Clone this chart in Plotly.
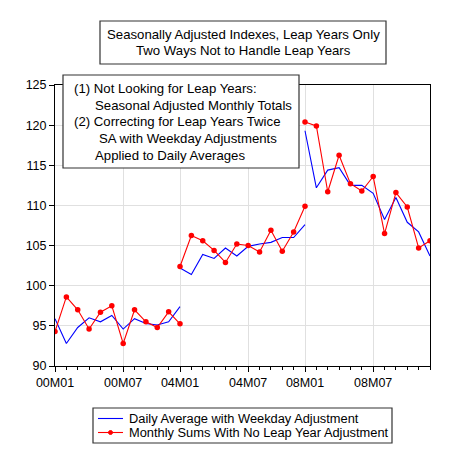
import plotly.graph_objects as go

# ---- data ----
daily_avg_2000 = [95.9, 92.8, 94.8, 96.0, 95.5, 96.3, 94.6, 95.9, 95.3, 95.1, 95.5, 97.4]
daily_avg_2004 = [102.2, 101.4, 103.9, 103.4, 104.7, 103.7, 104.9, 105.2, 105.4, 106.0, 106.0, 107.6]
daily_avg_2008 = [119.3, 112.2, 114.4, 114.7, 112.5, 112.5, 111.5, 108.25, 111.0, 107.9, 106.7, 103.7]

monthly_sum_2000 = [94.3, 98.6, 97.0, 94.6, 96.7, 97.5, 92.8, 97.0, 95.5, 94.8, 96.75, 95.25]
monthly_sum_2004 = [102.4, 106.25, 105.6, 104.4, 102.9, 105.2, 105.0, 104.2, 106.9, 104.3, 106.7, 109.9]
monthly_sum_2008 = [120.4, 119.9, 111.7, 116.25, 112.7, 111.8, 113.6, 106.5, 111.6, 109.8, 104.7, 105.6]

tick_labels = ["00M01", "00M07", "04M01", "04M07", "08M01", "08M07"]

title_lines = ["Seasonally Adjusted Indexes, Leap Years Only",
               "Two Ways Not to Handle Leap Years"]
note_lines = ["(1) Not Looking for Leap Years:",
              "Seasonal Adjusted Monthly Totals",
              "(2) Correcting for Leap Years Twice",
              "SA with Weekday Adjustments",
              "Applied to Daily Averages"]

series_a_name = "Daily Average with Weekday Adjustment"
series_b_name = "Monthly Sums With No Leap Year Adjustment"

# ---- build x positions (each leap year occupies 11 intervals, segments abut) ----
def build(segments):
    xs, ys = [], []
    for k, seg in enumerate(segments):
        if k > 0:
            xs.append(None); ys.append(None)
        for m, v in enumerate(seg):
            xs.append(k * 11 + m)
            ys.append(v)
    return xs, ys

xa, ya = build([daily_avg_2000, daily_avg_2004, daily_avg_2008])
xb, yb = build([monthly_sum_2000, monthly_sum_2004, monthly_sum_2008])
tick_vals = [k * 11 + m for k in range(3) for m in (0, 6)]

FONT = "Liberation Sans, Arial, sans-serif"
TXT = 13.2
LEG_TXT = 12.85
BLUE, RED = "#0000ff", "#ff0000"

fig = go.Figure()
fig.add_trace(go.Scatter(x=xa, y=ya, mode="lines", name=series_a_name, showlegend=False,
                         line=dict(color=BLUE, width=1.1), connectgaps=False))
fig.add_trace(go.Scatter(x=xb, y=yb, mode="lines+markers", name=series_b_name, showlegend=False,
                         line=dict(color=RED, width=1.1),
                         marker=dict(color=RED, size=5.5, symbol="circle"),
                         connectgaps=False))

# page has an 8px body margin; work in page pixels and shift
O = 8
W, H = 474 - O, 470 - O
L, R, T, B = 55 - O, W - (430 - O), 85 - O, H - (366 - O)
pw, ph = W - L - R, H - T - B

def px(x):
    return (x - O - L) / pw

def py(y):
    return (H - B - (y - O)) / ph

shapes = []
annotations = []

def text(t, x, y, anchor="left", size=TXT):
    annotations.append(dict(text=t, xref="paper", yref="paper", x=px(x), y=py(y),
                            xanchor=anchor, yanchor="middle", showarrow=False,
                            font=dict(family=FONT, size=size, color="black")))

def box(x0, y0, x1, y1):
    shapes.append(dict(type="rect", xref="paper", yref="paper", x0=px(x0), x1=px(x1),
                       y0=py(y1), y1=py(y0), line=dict(color="#333333", width=1.2),
                       fillcolor="white", layer="above"))

# title box
box(100, 21, 386, 64)
for i, t in enumerate(title_lines):
    text(t, 243, 34 + 16.5 * i, "center")

# note box
box(63, 75, 299, 168)
indents = [72, 93, 72, 97, 93]
for i, t in enumerate(note_lines):
    text(t, indents[i], 88.5 + 16.7 * i)

# legend box
box(93, 408, 392, 443)
for i, (name, col) in enumerate([(series_a_name, BLUE), (series_b_name, RED)]):
    yy = 418.5 + 14 * i
    shapes.append(dict(type="line", xref="paper", yref="paper", x0=px(98), x1=px(123),
                       y0=py(yy), y1=py(yy), line=dict(color=col, width=1.1), layer="above"))
    text(name, 127, yy, size=LEG_TXT)
shapes.append(dict(type="circle", xref="paper", yref="paper", x0=px(108.5), x1=px(112.5),
                   y0=py(434.5), y1=py(430.5), line=dict(color=RED, width=1),
                   fillcolor=RED, layer="above"))

fig.update_layout(
    width=W, height=H,
    margin=dict(l=L, r=R, t=T, b=B, autoexpand=False),
    paper_bgcolor="white", plot_bgcolor="white",
    font=dict(family=FONT, size=13, color="black"),
    showlegend=False,
    shapes=shapes, annotations=annotations,
)
fig.update_xaxes(range=[0, 33], tickvals=tick_vals, ticktext=tick_labels,
                 showline=True, linecolor="black", linewidth=1, mirror=True,
                 ticks="outside", ticklen=5, tickcolor="black",
                 showgrid=True, gridcolor="#e0e0e0", gridwidth=1, zeroline=False,
                 tickfont=dict(family=FONT, size=12.5),
                 minor=dict(dtick=1, tick0=0, ticks="outside", ticklen=3, tickcolor="black", showgrid=False))
fig.update_yaxes(range=[90, 125], dtick=5, tick0=90,
                 showline=True, linecolor="black", linewidth=1, mirror=True,
                 ticks="outside", ticklen=5, tickcolor="black",
                 showgrid=True, gridcolor="#e0e0e0", gridwidth=1, zeroline=False,
                 tickfont=dict(family=FONT, size=12.5))

fig.write_html("out.html")
